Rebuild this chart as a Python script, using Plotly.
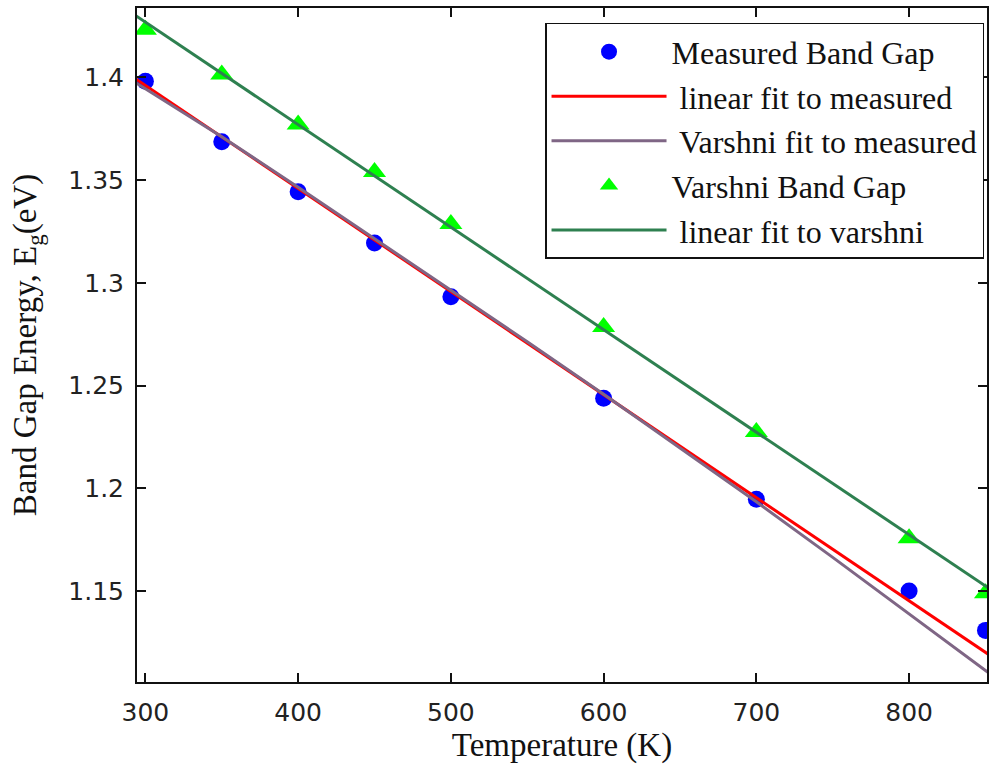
import plotly.graph_objects as go

# ---- data ----
T_meas = [300, 350, 400, 450, 500, 600, 700, 800, 850]
Eg_meas = [1.398, 1.3686, 1.3443, 1.3193, 1.2932, 1.2439, 1.1948, 1.1501, 1.131]

T_varsh = [300, 350, 400, 450, 500, 600, 700, 800, 850]
Eg_varsh = [1.423, 1.4013, 1.377, 1.3539, 1.3286, 1.2785, 1.2274, 1.1758, 1.149]

T_lin = [290, 860]
Eg_lin_meas = [1.4010, 1.1153]
Eg_lin_varsh = [1.4317, 1.1476]

T_vfit = [290, 350, 400, 450, 500, 550, 600, 650, 700, 750, 800, 860]
Eg_vfit = [1.3990, 1.3710, 1.3465, 1.3215, 1.2965, 1.2713, 1.2458, 1.2198, 1.1935, 1.1665, 1.1392, 1.1060]

x_ticks = [300, 400, 500, 600, 700, 800]
y_ticks = [1.15, 1.2, 1.25, 1.3, 1.35, 1.4]
y_ticktext = ["1.15", "1.2", "1.25", "1.3", "1.35", "1.4"]

serif = "Liberation Serif, Times New Roman, serif"
sans = "DejaVu Sans, sans-serif"

fig = go.Figure()
fig.add_trace(go.Scatter(x=T_meas, y=Eg_meas, mode="markers", name="Measured Band Gap",
                         marker=dict(symbol="circle", size=17, color="#0000FF"),
                         legendgroup="a"))
fig.add_trace(go.Scatter(x=T_lin, y=Eg_lin_meas, mode="lines", name=" linear fit to measured",
                         line=dict(color="#FF0000", width=3), legendgroup="b"))
fig.add_trace(go.Scatter(x=T_vfit, y=Eg_vfit, mode="lines", name=" Varshni fit to measured",
                         line=dict(color="#7F6685", width=3), legendgroup="c"))
fig.add_trace(go.Scatter(x=T_varsh, y=Eg_varsh, mode="markers", name="Varshni Band Gap",
                         marker=dict(symbol="triangle-up", size=20, color="#00FF00"),
                         legendgroup="d"))
fig.add_trace(go.Scatter(x=T_lin, y=Eg_lin_varsh, mode="lines", name=" linear fit to varshni",
                         line=dict(color="#2E8050", width=3), legendgroup="e"))

fig.update_layout(
    width=989, height=766,
    margin=dict(l=137, r=0, t=8, b=84, pad=0),
    paper_bgcolor="white", plot_bgcolor="white",
    showlegend=True,
    legend=dict(
        x=0.9965, y=0.978, xanchor="right", yanchor="top",
        bgcolor="white", bordercolor="#111", borderwidth=1.5,
        font=dict(family=serif, size=32, color="#111"),
        tracegroupgap=0, itemwidth=115,
    ),
    xaxis=dict(
        range=[294.5, 851], tickvals=x_ticks,
        ticks="inside", ticklen=9, tickwidth=1.5, tickcolor="#111",
        showline=True, linecolor="#111", linewidth=2, mirror="ticks",
        showgrid=False, zeroline=False,
        tickfont=dict(family=sans, size=25, color="#222"),
        ticklabelstandoff=7,
        title=dict(text="Temperature (K)", font=dict(family=serif, size=33, color="#111"),
                   standoff=6),
    ),
    yaxis=dict(
        range=[1.1059, 1.4336], tickvals=y_ticks, ticktext=y_ticktext,
        ticks="inside", ticklen=9, tickwidth=1.5, tickcolor="#111",
        showline=True, linecolor="#111", linewidth=2, mirror="ticks",
        showgrid=False, zeroline=False,
        tickfont=dict(family=sans, size=25, color="#222"),
        ticklabelstandoff=6,
        title=dict(text="Band Gap Energy, E<sub>g</sub>(eV)",
                   font=dict(family=serif, size=33, color="#111"), standoff=22),
    ),
)

fig.write_html("out.html")
